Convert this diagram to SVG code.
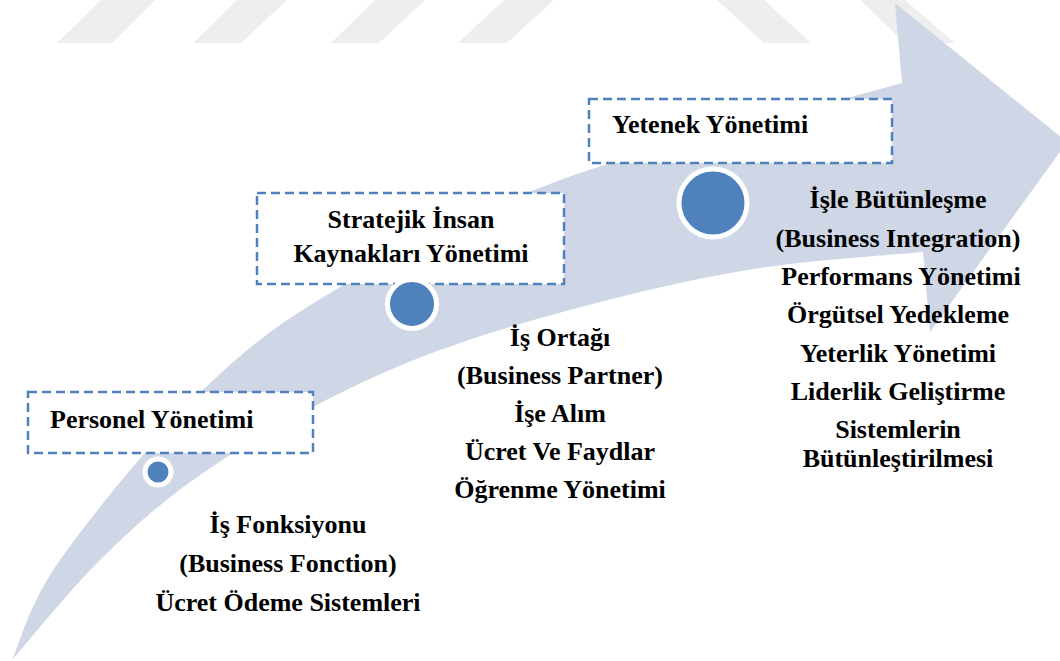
<svg xmlns="http://www.w3.org/2000/svg" width="1060" height="661" viewBox="0 0 1060 661">
  <defs>
    <style>
      .mark { fill: #eeeeee; }
      .arrow { fill: #cfd7e7; }
      .box { fill: #ffffff; stroke: #4f81bd; stroke-width: 2.5; stroke-dasharray: 9 5; }
      .dot { fill: #4f81bd; stroke: #ffffff; stroke-width: 5; }
      .label { font-family: 'Liberation Serif', 'DejaVu Serif', serif; font-weight: 700; font-size: 26px; fill: #000000; }
      .mid { text-anchor: middle; }
    </style>
  </defs>

  <!-- faded stripes along the top edge -->
  <g id="watermark">
    <polygon class="mark" points="101,0 155,0 112,43 57,43"/>
    <polygon class="mark" points="237,0 287,0 241,43 193,43"/>
    <polygon class="mark" points="375,0 425,0 379,43 331,43"/>
    <polygon class="mark" points="504,0 554,0 507,43 458,43"/>
    <polygon class="mark" points="717,0 764,0 811,43 764,43"/>
    <polygon class="mark" points="860,0 905,0 955,43 905,43"/>
  </g>

  <!-- sweeping growth arrow -->
  <g id="connectors">
    <path id="arrow" class="arrow" d="M12,660
      C20,643.3 28.2,605 60,560
      C91.8,515 156.3,435.5 203,390
      C249.7,344.5 281.3,321.7 340,287
      C398.7,252.3 471.7,213.2 555,182
      C638.3,150.8 782.2,116.5 840,100
      L902,83 L895,3 L1067,142 L930,332 L923,252
      C895.8,254.7 813.8,259.7 760,268
      C706.2,276.3 653.3,288.3 600,302
      C546.7,315.7 487.8,332.5 440,350
      C392.2,367.5 354.2,385.3 313,407
      C271.8,428.7 228.5,454.5 193,480
      C157.5,505.5 130.2,530 100,560
      C69.8,590 26.7,643.3 12,660 Z"/>
  </g>

  <!-- stage 1 -->
  <g id="stage-personel">
    <rect class="box" x="28" y="392" width="285" height="61"/>
    <text class="label" x="50" y="428" font-family="Liberation Serif, serif">Personel Yönetimi</text>
  </g>
  <g id="dot-personel">
    <circle class="dot" cx="158" cy="472" r="13"/>
  </g>
  <g id="items-personel">
    <text class="label mid" x="288" y="533">İş Fonksiyonu</text>
    <text class="label mid" x="288" y="572">(Business Fonction)</text>
    <text class="label mid" x="288" y="611">Ücret Ödeme Sistemleri</text>
  </g>

  <!-- stage 2 -->
  <g id="stage-stratejik">
    <rect class="box" x="257" y="193" width="307" height="91"/>
    <text class="label mid" x="411" y="228">Stratejik İnsan</text>
    <text class="label mid" x="411" y="262">Kaynakları Yönetimi</text>
  </g>
  <g id="dot-stratejik">
    <circle class="dot" cx="412" cy="304" r="24.5"/>
  </g>
  <g id="items-stratejik">
    <text class="label mid" x="560" y="346">İş Ortağı</text>
    <text class="label mid" x="560" y="384">(Business Partner)</text>
    <text class="label mid" x="560" y="422">İşe Alım</text>
    <text class="label mid" x="560" y="460">Ücret Ve Faydlar</text>
    <text class="label mid" x="560" y="498">Öğrenme Yönetimi</text>
  </g>

  <!-- stage 3 -->
  <g id="stage-yetenek">
    <rect class="box" x="589" y="99" width="303" height="64"/>
    <text class="label" x="612" y="133">Yetenek Yönetimi</text>
  </g>
  <g id="dot-yetenek">
    <circle class="dot" cx="713" cy="203" r="34"/>
  </g>
  <g id="items-yetenek">
    <text class="label mid" x="898" y="208">İşle Bütünleşme</text>
    <text class="label mid" x="898" y="247">(Business Integration)</text>
    <text class="label mid" x="901" y="285">Performans Yönetimi</text>
    <text class="label mid" x="898" y="323">Örgütsel Yedekleme</text>
    <text class="label mid" x="898" y="362">Yeterlik Yönetimi</text>
    <text class="label mid" x="898" y="400">Liderlik Geliştirme</text>
    <text class="label mid" x="898" y="438">Sistemlerin</text>
    <text class="label mid" x="898" y="467">Bütünleştirilmesi</text>
  </g>
</svg>
